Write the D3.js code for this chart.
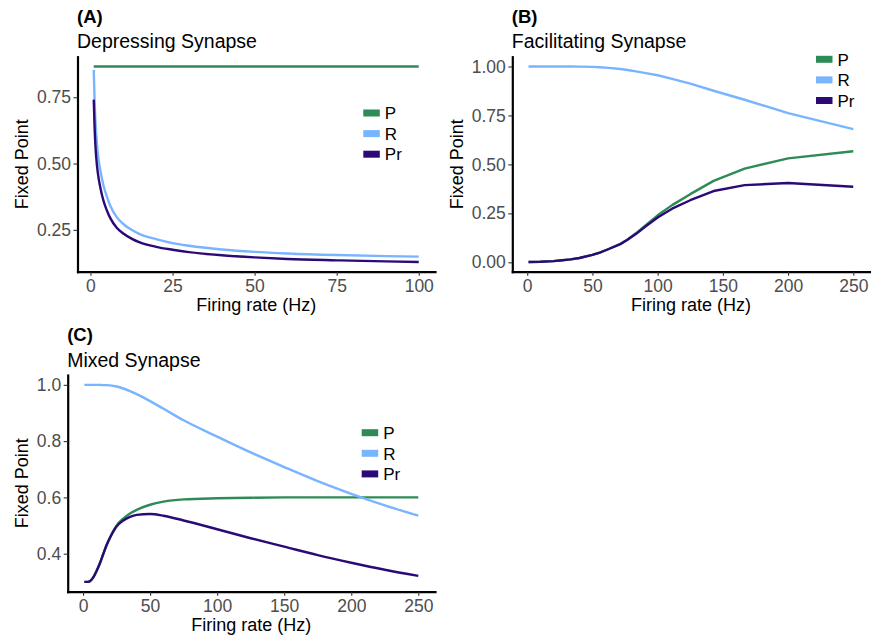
<!DOCTYPE html>
<html>
<head>
<meta charset="utf-8">
<script src="https://cdn.jsdelivr.net/npm/d3@7"></script>
<style>
  html, body { margin: 0; padding: 0; background: #fff; }
  svg { display: block; font-family: "Liberation Sans", Arial, Helvetica, sans-serif; }
</style>
</head>
<body>
<svg id="chart" width="871" height="636"></svg>
<script>
// ---- Panel A: depressing synapse ----
const depRate = [1, 1.25, 1.5, 2, 2.5, 3, 4, 5, 6, 8, 10, 12.5, 15, 20, 25, 30, 40, 50, 60, 75, 90, 100];
const depP  = [0.866, 0.866, 0.866, 0.866, 0.866, 0.866, 0.866, 0.866, 0.866, 0.866, 0.866, 0.866, 0.866, 0.866, 0.866, 0.866, 0.866, 0.866, 0.866, 0.866, 0.866, 0.866];
const depR  = [0.853, 0.740, 0.665, 0.570, 0.513, 0.475, 0.415, 0.375, 0.342, 0.298, 0.272, 0.250, 0.234, 0.215, 0.200, 0.190, 0.176, 0.167, 0.161, 0.155, 0.151, 0.149];
const depPr = [0.741, 0.640, 0.570, 0.490, 0.443, 0.410, 0.358, 0.323, 0.295, 0.258, 0.236, 0.217, 0.203, 0.186, 0.175, 0.166, 0.154, 0.146, 0.140, 0.135, 0.131, 0.129];

// ---- Panel B: facilitating synapse ----
const facRate = [1, 10, 20, 25, 33.3, 40, 50, 55.6, 62.5, 71.4, 76.9, 83.3, 90.9, 100, 111.1, 125, 142.9, 166.7, 200, 250];
const facP  = [0.002, 0.003, 0.006, 0.009, 0.015, 0.022, 0.038, 0.050, 0.068, 0.094, 0.117, 0.148, 0.190, 0.240, 0.292, 0.348, 0.416, 0.478, 0.531, 0.567];
const facR  = [1.000, 1.000, 1.000, 1.000, 1.000, 0.999, 0.998, 0.996, 0.993, 0.987, 0.982, 0.975, 0.966, 0.955, 0.937, 0.912, 0.876, 0.830, 0.762, 0.680];
const facPr = [0.002, 0.003, 0.006, 0.009, 0.015, 0.022, 0.038, 0.050, 0.068, 0.093, 0.115, 0.144, 0.184, 0.229, 0.274, 0.317, 0.364, 0.394, 0.405, 0.386];

// ---- Panel C: mixed synapse ----
const mixRate = [1, 2.5, 5, 7.5, 10, 12.5, 15, 17.5, 20, 25, 30, 35, 40, 50, 60, 75, 100, 125, 150, 175, 200, 225, 250];
const mixP  = [0.300, 0.300, 0.302, 0.315, 0.338, 0.365, 0.398, 0.430, 0.457, 0.500, 0.525, 0.543, 0.556, 0.574, 0.585, 0.593, 0.597, 0.599, 0.600, 0.600, 0.600, 0.600, 0.600];
const mixR  = [1.000, 1.000, 1.000, 1.000, 1.000, 1.000, 0.999, 0.999, 0.998, 0.994, 0.987, 0.978, 0.967, 0.942, 0.915, 0.874, 0.816, 0.760, 0.708, 0.658, 0.613, 0.572, 0.535];
const mixPr = [0.300, 0.300, 0.302, 0.315, 0.338, 0.365, 0.398, 0.430, 0.456, 0.497, 0.518, 0.531, 0.538, 0.541, 0.535, 0.518, 0.487, 0.455, 0.425, 0.395, 0.368, 0.343, 0.321];

// Legend entries and colours
const seriesNames  = ["P", "R", "Pr"];
const seriesColors = ["#2E8B57", "#79B4FF", "#2B0A78"];

const xTicksA = [0, 25, 50, 75, 100];
const yTicksA = [0.25, 0.50, 0.75];
const xTicksBC = [0, 50, 100, 150, 200, 250];
const yTicksB = [0, 0.25, 0.50, 0.75, 1.00];
const yTicksC = [0.4, 0.6, 0.8, 1.0];

const panels = [
  { tag: "(A)", title: "Depressing Synapse", rate: depRate, series: [depP, depR, depPr],
    box: { left: 77.5, right: 435, top: 56.7, bottom: 271.7 },
    xTicks: xTicksA, yTicks: yTicksA, yFmt: d3.format(".2f"),
    curve: d3.curveMonotoneX,
    titleY: 22.7, subY: 47.5, xTitleY: 311, yTitleX: 28,
    legend: { x: 363.3, y: 113 } },
  { tag: "(B)", title: "Facilitating Synapse", rate: facRate, series: [facP, facR, facPr],
    box: { left: 512.3, right: 869.5, top: 56.7, bottom: 271.7 },
    xTicks: xTicksBC, yTicks: yTicksB, yFmt: d3.format(".2f"),
    curve: d3.curveLinear,
    titleY: 22.7, subY: 47.5, xTitleY: 311, yTitleX: 463,
    legend: { x: 816, y: 59.3 } },
  { tag: "(C)", title: "Mixed Synapse", rate: mixRate, series: [mixP, mixR, mixPr],
    box: { left: 67.7, right: 435, top: 375, bottom: 591.7 },
    xTicks: xTicksBC, yTicks: yTicksC, yFmt: d3.format(".1f"),
    curve: d3.curveMonotoneX,
    titleY: 341, subY: 366.5, xTitleY: 630.5, yTitleX: 28,
    legend: { x: 361.7, y: 432.7 } }
];

const svg = d3.select("#chart");

// continuous-scale padding of 5% on each side
function padded(extent) {
  const span = extent[1] - extent[0];
  return [extent[0] - span * 0.05, extent[1] + span * 0.05];
}

panels.forEach(p => {
  const b = p.box;
  const allY = p.series.flat();
  const x = d3.scaleLinear().domain(padded(d3.extent(p.rate))).range([b.left, b.right]);
  const y = d3.scaleLinear().domain(padded(d3.extent(allY))).range([b.bottom, b.top]);

  const g = svg.append("g");

  // lines
  const line = d3.line().curve(p.curve).x(d => x(d[0])).y(d => y(d[1]));
  p.series.forEach((vals, i) => {
    g.append("path")
      .datum(p.rate.map((r, k) => [r, vals[k]]))
      .attr("d", line)
      .attr("fill", "none")
      .attr("stroke", seriesColors[i])
      .attr("stroke-width", 2.4)
      .attr("stroke-linejoin", "round");
  });

  // axes
  const xAxis = g.append("g")
    .attr("transform", `translate(0,${b.bottom})`)
    .call(d3.axisBottom(x).tickValues(p.xTicks).tickSize(4).tickSizeOuter(0).tickPadding(4.3));
  const yAxis = g.append("g")
    .attr("transform", `translate(${b.left},0)`)
    .call(d3.axisLeft(y).tickValues(p.yTicks).tickFormat(p.yFmt).tickSize(4).tickSizeOuter(0).tickPadding(2.5));

  [xAxis, yAxis].forEach(ax => {
    ax.select(".domain").attr("stroke", "#000").attr("stroke-width", 2.2).attr("stroke-linecap", "square");
    ax.selectAll(".tick line").attr("stroke", "#333").attr("stroke-width", 1.1);
    ax.selectAll(".tick text")
      .attr("fill", "#4D4D4D")
      .style("font-size", "17.5px")
      .style("font-family", "'Liberation Sans', Arial, sans-serif");
  });

  // axis titles
  g.append("text")
    .attr("x", (b.left + b.right) / 2).attr("y", p.xTitleY)
    .attr("text-anchor", "middle").style("font-size", "18px").attr("fill", "#000")
    .text("Firing rate (Hz)");
  g.append("text")
    .attr("transform", `translate(${p.yTitleX},${(b.top + b.bottom) / 2}) rotate(-90)`)
    .attr("text-anchor", "middle").style("font-size", "18px").attr("fill", "#000")
    .text("Fixed Point");

  // tag and title
  g.append("text")
    .attr("x", b.left - 0.5).attr("y", p.titleY)
    .style("font-size", "18.5px").style("font-weight", "bold").attr("fill", "#000")
    .text(p.tag);
  g.append("text")
    .attr("x", b.left - 0.5).attr("y", p.subY)
    .style("font-size", "19.5px").attr("fill", "#000")
    .text(p.title);

  // legend
  const lg = g.append("g").attr("transform", `translate(${p.legend.x},${p.legend.y})`);
  seriesNames.forEach((name, i) => {
    const row = lg.append("g").attr("transform", `translate(0,${i * 20.6})`);
    row.append("rect")
      .attr("x", 0).attr("y", -3.5).attr("width", 16.5).attr("height", 7)
      .attr("fill", seriesColors[i]);
    row.append("text")
      .attr("x", 21.5).attr("y", 6.2)
      .style("font-size", "17px").attr("fill", "#000")
      .text(name);
  });
});
</script>
</body>
</html>
